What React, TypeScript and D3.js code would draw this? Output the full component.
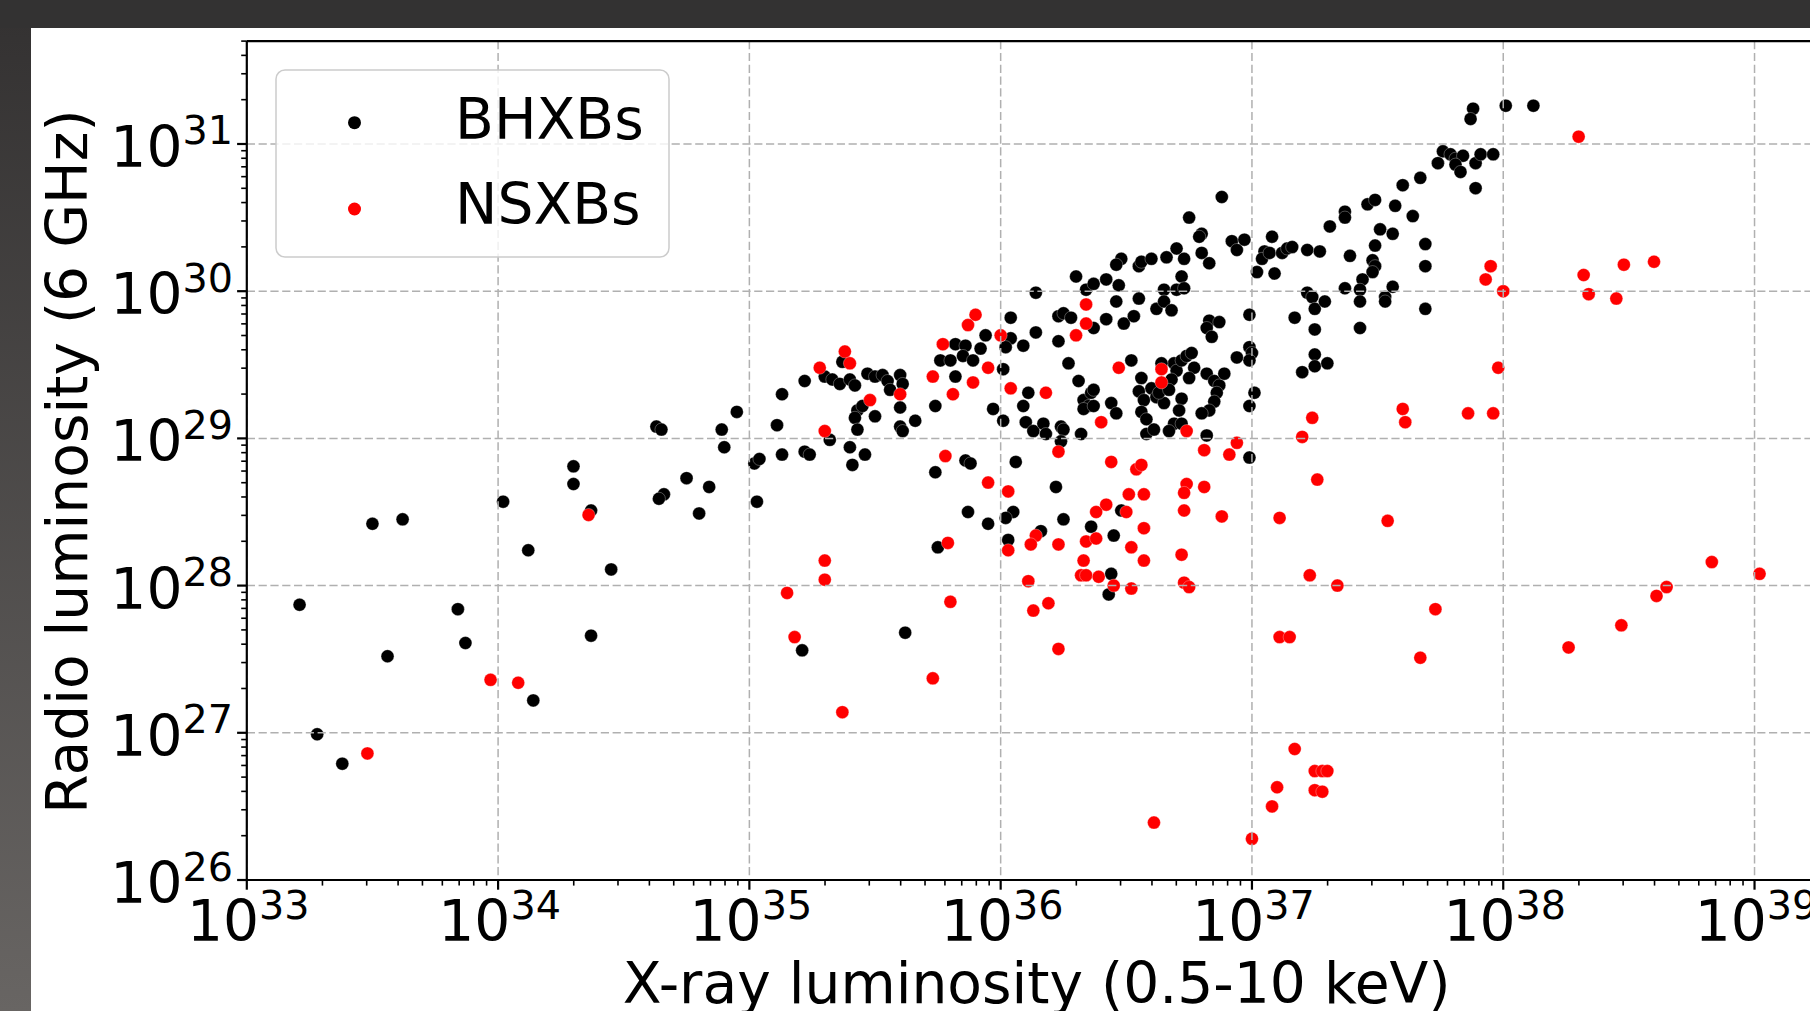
import React from 'react';
import * as d3 from 'd3';

const W = 1810;
const H = 1011;

// tick exponents
const xTickExps = [33, 34, 35, 36, 37, 38, 39];
const yTickExps = [26, 27, 28, 29, 30, 31];
const legendLabels = ['BHXBs', 'NSXBs'];
const seriesColors = ['#000000', '#ff0000'];
const xLabel = 'X-ray luminosity (0.5-10 keV)';
const yLabel = 'Radio luminosity (6 GHz)';

// [log10 Lx, log10 Lr]
const bhxbPoints: [number, number][] = [
  [33.21, 27.87], [33.50, 28.42], [33.62, 28.45], [33.56, 27.52], [33.84, 27.84], [33.87, 27.61],
  [34.02, 28.57], [34.12, 28.24], [34.30, 28.81], [34.30, 28.69], [34.37, 28.51], [34.45, 28.11],
  [34.37, 27.66], [34.14, 27.22], [34.63, 29.08], [34.65, 29.06], [34.66, 28.62], [34.64, 28.59],
  [34.75, 28.73], [34.80, 28.49], [34.84, 28.67], [34.89, 29.06], [34.90, 28.94], [34.95, 29.18],
  [35.03, 28.57], [35.02, 28.83], [35.04, 28.86], [35.11, 29.09], [35.13, 29.30], [35.13, 28.89],
  [35.22, 28.91], [35.24, 28.89], [35.22, 29.39], [35.21, 27.56], [33.28, 26.99], [33.38, 26.79],
  [35.94, 29.70], [35.82, 29.64], [35.86, 29.63], [35.92, 29.61], [35.85, 29.56], [35.89, 29.53],
  [35.76, 29.53], [35.80, 29.53], [35.82, 29.42], [35.30, 29.42], [35.33, 29.40], [35.36, 29.37],
  [35.37, 29.52], [35.40, 29.40], [35.42, 29.36], [35.47, 29.44], [35.50, 29.42], [35.53, 29.43],
  [35.55, 29.39], [35.56, 29.33], [35.60, 29.43], [35.61, 29.37], [35.43, 29.19], [35.42, 29.14],
  [35.43, 29.06], [35.45, 29.22], [35.50, 29.15], [35.60, 29.21], [35.60, 29.08], [35.61, 29.05],
  [35.66, 29.12], [35.32, 28.99], [35.40, 28.94], [35.41, 28.82], [35.46, 28.89], [35.74, 29.22],
  [35.97, 29.20], [35.86, 28.85], [35.88, 28.83], [35.74, 28.77], [35.87, 28.50], [35.95, 28.42],
  [35.75, 28.26], [35.62, 27.68], [36.14, 29.99], [36.34, 30.01], [36.46, 29.93], [36.55, 29.95],
  [36.04, 29.82], [36.23, 29.83], [36.25, 29.85], [36.28, 29.82], [36.42, 29.81], [36.37, 29.75],
  [36.49, 29.78], [36.53, 29.83], [36.62, 29.88], [36.30, 30.10], [36.37, 30.05], [36.42, 30.08],
  [36.47, 30.04], [36.48, 30.22], [36.46, 30.18], [36.55, 30.17], [36.56, 30.20], [36.60, 30.22],
  [37.88, 31.24], [37.87, 31.17], [38.01, 31.26], [38.12, 31.26], [37.76, 30.95], [37.79, 30.93],
  [37.81, 30.90], [37.84, 30.92], [37.81, 30.86], [37.83, 30.81], [37.74, 30.87], [37.89, 30.87],
  [37.91, 30.93], [37.96, 30.93], [37.89, 30.70], [37.67, 30.77], [37.60, 30.72], [37.46, 30.59],
  [37.49, 30.62], [37.57, 30.58], [37.37, 30.54], [37.37, 30.50], [37.31, 30.44], [37.64, 30.51],
  [37.51, 30.42], [37.56, 30.39], [37.49, 30.31], [37.39, 30.24], [37.48, 30.21], [37.49, 30.17],
  [37.48, 30.13], [37.69, 30.32], [37.69, 30.17], [37.44, 30.08], [37.37, 30.02], [37.43, 30.01],
  [37.43, 29.93], [37.56, 30.03], [37.53, 29.96], [37.53, 29.93], [37.43, 29.75], [37.69, 29.88],
  [36.88, 30.64], [36.75, 30.50], [36.80, 30.39], [36.79, 30.37], [36.80, 30.26], [36.83, 30.19],
  [36.70, 30.29], [36.66, 30.23], [36.73, 30.22], [36.92, 30.34], [36.94, 30.28], [36.97, 30.35],
  [37.08, 30.37], [37.05, 30.27], [37.04, 30.22], [37.07, 30.26], [37.02, 30.13], [37.09, 30.12],
  [37.12, 30.26], [37.14, 30.29], [37.16, 30.30], [37.22, 30.28], [37.27, 30.27], [36.72, 30.10],
  [36.65, 30.01], [36.70, 30.01], [36.73, 30.02], [36.65, 29.93], [36.68, 29.87], [36.99, 29.84],
  [37.22, 29.99], [37.24, 29.96], [37.25, 29.88], [37.29, 29.93], [37.17, 29.82], [37.25, 29.74],
  [36.83, 29.80], [36.87, 29.79], [36.82, 29.75], [36.04, 29.68], [36.02, 29.62], [36.09, 29.63],
  [36.01, 29.47], [36.14, 29.72], [36.23, 29.66], [36.27, 29.51], [36.31, 29.39], [36.52, 29.53],
  [36.84, 29.69], [36.99, 29.62], [37.00, 29.58], [36.99, 29.53], [36.94, 29.55], [37.25, 29.57],
  [37.25, 29.49], [37.30, 29.51], [37.20, 29.45], [37.01, 29.31], [36.99, 29.22], [36.11, 29.31],
  [36.09, 29.22], [36.01, 29.12], [36.10, 29.11], [36.13, 29.05], [36.17, 29.10], [36.18, 29.03],
  [36.24, 29.08], [36.25, 29.06], [36.24, 28.98], [36.32, 29.03], [36.06, 28.84], [36.22, 28.67],
  [36.05, 28.50], [36.02, 28.46], [36.03, 28.31], [36.25, 28.45], [36.36, 28.40], [36.48, 28.51],
  [36.45, 28.34], [36.16, 28.37], [36.44, 28.08], [36.43, 27.94], [36.33, 29.26], [36.36, 29.31],
  [36.37, 29.33], [36.35, 29.22], [36.33, 29.20], [36.37, 29.22], [36.44, 29.24], [36.46, 29.17],
  [36.56, 29.41], [36.55, 29.32], [36.57, 29.26], [36.56, 29.18], [36.58, 29.13], [36.58, 29.03],
  [36.61, 29.06], [36.60, 29.34], [36.62, 29.28], [36.65, 29.24], [36.63, 29.31], [36.69, 29.51],
  [36.70, 29.46], [36.72, 29.53], [36.74, 29.56], [36.76, 29.58], [36.68, 29.40], [36.67, 29.33],
  [36.72, 29.27], [36.71, 29.19], [36.69, 29.10], [36.67, 29.05], [36.72, 29.10], [36.77, 29.48],
  [36.75, 29.41], [36.82, 29.44], [36.85, 29.39], [36.87, 29.36], [36.89, 29.44], [36.86, 29.31],
  [36.85, 29.25], [36.83, 29.19], [36.80, 29.17], [36.82, 29.02], [36.99, 28.87], [36.64, 29.51],
];

const nsxbPoints: [number, number][] = [
  [34.36, 28.48], [33.97, 27.36], [34.08, 27.34], [33.48, 26.86], [35.15, 27.95], [35.18, 27.65],
  [35.37, 27.14], [35.30, 28.17], [35.30, 28.04], [35.90, 29.84], [35.87, 29.77], [35.77, 29.64],
  [35.73, 29.42], [35.81, 29.30], [35.89, 29.38], [35.95, 29.48], [35.38, 29.59], [35.40, 29.51],
  [35.28, 29.48], [35.48, 29.26], [35.60, 29.30], [35.30, 29.05], [35.78, 28.88], [35.95, 28.70],
  [35.79, 28.29], [35.80, 27.89], [35.73, 27.37], [36.34, 29.91], [36.34, 29.78], [36.30, 29.70],
  [36.00, 29.70], [36.47, 29.48], [36.64, 29.47], [36.64, 29.38], [36.04, 29.34], [36.18, 29.31],
  [36.40, 29.11], [36.74, 29.05], [36.23, 28.91], [36.81, 28.92], [36.94, 28.97], [36.91, 28.89],
  [36.44, 28.84], [36.54, 28.79], [36.56, 28.82], [36.03, 28.64], [36.51, 28.62], [36.57, 28.62],
  [36.74, 28.69], [36.73, 28.63], [36.81, 28.67], [36.42, 28.55], [36.38, 28.50], [36.50, 28.50],
  [36.73, 28.51], [36.88, 28.47], [37.11, 28.46], [36.57, 28.39], [36.14, 28.34], [36.12, 28.28],
  [36.23, 28.28], [36.03, 28.24], [36.34, 28.30], [36.38, 28.32], [36.52, 28.26], [36.72, 28.21],
  [36.57, 28.17], [36.33, 28.17], [36.32, 28.07], [36.34, 28.07], [36.39, 28.06], [36.45, 28.00],
  [36.52, 27.98], [36.73, 28.02], [36.75, 27.99], [36.11, 28.03], [37.23, 28.07], [37.34, 28.00],
  [37.54, 28.44], [37.26, 28.72], [37.20, 29.01], [37.24, 29.14], [37.60, 29.20], [37.61, 29.11],
  [37.86, 29.17], [37.96, 29.17], [37.98, 29.48], [36.19, 27.88], [36.13, 27.83], [37.73, 27.84],
  [36.23, 27.57], [37.17, 26.89], [37.25, 26.74], [37.28, 26.74], [37.30, 26.74], [37.25, 26.61],
  [37.28, 26.60], [37.10, 26.63], [37.08, 26.50], [37.00, 26.28], [36.61, 26.39], [37.11, 27.65],
  [37.15, 27.65], [38.30, 31.05], [37.95, 30.17], [37.93, 30.08], [38.00, 30.00], [38.32, 30.11],
  [38.34, 29.98], [38.45, 29.95], [38.48, 30.18], [38.60, 30.20], [38.83, 28.16], [39.02, 28.08],
  [38.65, 27.99], [38.61, 27.93], [38.47, 27.73], [38.26, 27.58], [37.67, 27.51],
];

const FONT = '"DejaVu Sans", sans-serif';
const FS = 56.7;
const SUP = 39.7;

export default function App() {
  const plotLeft = 246.8;
  const plotRight = 1826.4;
  const plotTop = 41.1;
  const plotBottom = 880;

  const x = d3.scaleLog().domain([1e33, Math.pow(10, 39.286)]).range([plotLeft, plotRight]);
  const y = d3.scaleLog().domain([1e26, 5e31]).range([plotBottom, plotTop]);
  const [xMin, xMax] = x.domain();
  const [yMin, yMax] = y.domain();

  const xMinor: number[] = [];
  for (let e = 32; e <= 39; e++) for (let k = 2; k <= 9; k++) {
    const v = k * Math.pow(10, e);
    if (v > xMin && v < xMax) xMinor.push(v);
  }
  const yMinor: number[] = [];
  for (let e = 25; e <= 31; e++) for (let k = 2; k <= 9; k++) {
    const v = k * Math.pow(10, e);
    if (v > yMin && v < yMax) yMinor.push(v);
  }

  const gridColor = '#b0b0b0';
  const dash = '8.2 3.6';
  const R = 6.5;

  return (
    <svg width={W} height={H} style={{ position: 'absolute', left: 0, top: 0, display: 'block' }}
      xmlns="http://www.w3.org/2000/svg">
      <defs>
        <linearGradient id="leftband" x1="0" y1="0" x2="0" y2="1">
          <stop offset="0" stopColor="#333131" />
          <stop offset="1" stopColor="#686563" />
        </linearGradient>
        <clipPath id="plotclip">
          <rect x={plotLeft} y={plotTop} width={plotRight - plotLeft} height={plotBottom - plotTop} />
        </clipPath>
      </defs>
      <rect x={0} y={0} width={W} height={H} fill="#333232" />
      <rect x={0} y={0} width={31} height={H} fill="url(#leftband)" />
      <rect x={0} y={0} width={W} height={28} fill="#333232" />
      <rect x={31} y={28} width={W - 31} height={H - 28} fill="#ffffff" />

      {/* points */}
      <g clipPath="url(#plotclip)">
        {bhxbPoints.map((p, i) => (
          <circle key={'b' + i} cx={x(Math.pow(10, p[0]))} cy={y(Math.pow(10, p[1]))} r={R}
            fill={seriesColors[0]} stroke="#ffffff" strokeWidth={0.5} strokeOpacity={0.6} />
        ))}
        {nsxbPoints.map((p, i) => (
          <circle key={'n' + i} cx={x(Math.pow(10, p[0]))} cy={y(Math.pow(10, p[1]))} r={R}
            fill={seriesColors[1]} stroke="#ffffff" strokeWidth={0.5} strokeOpacity={0.6} />
        ))}
      </g>

      {/* grid */}
      <g stroke={gridColor} strokeWidth={1.5} strokeDasharray={dash} fill="none">
        {xTickExps.map((e) => (
          <line key={'gx' + e} x1={x(Math.pow(10, e))} x2={x(Math.pow(10, e))} y1={plotTop} y2={plotBottom} />
        ))}
        {yTickExps.map((e) => (
          <line key={'gy' + e} x1={plotLeft} x2={plotRight} y1={y(Math.pow(10, e))} y2={y(Math.pow(10, e))} />
        ))}
      </g>

      {/* ticks */}
      <g stroke="#000" fill="none">
        {xTickExps.map((e) => (
          <line key={'tx' + e} x1={x(Math.pow(10, e))} x2={x(Math.pow(10, e))} y1={plotBottom} y2={plotBottom + 9.7} strokeWidth={2.2} />
        ))}
        {xMinor.map((v, i) => (
          <line key={'mx' + i} x1={x(v)} x2={x(v)} y1={plotBottom} y2={plotBottom + 5.6} strokeWidth={1.6} />
        ))}
        {yTickExps.map((e) => (
          <line key={'ty' + e} x1={plotLeft - 9.7} x2={plotLeft} y1={y(Math.pow(10, e))} y2={y(Math.pow(10, e))} strokeWidth={2.2} />
        ))}
        {yMinor.map((v, i) => (
          <line key={'my' + i} x1={plotLeft - 5.6} x2={plotLeft} y1={y(v)} y2={y(v)} strokeWidth={1.6} />
        ))}
      </g>

      {/* spines */}
      <g stroke="#000" strokeWidth={2.2} fill="none">
        <line x1={plotLeft} x2={plotLeft} y1={plotTop} y2={plotBottom} />
        <line x1={plotLeft} x2={plotRight} y1={plotBottom} y2={plotBottom} />
        <line x1={plotLeft} x2={plotRight} y1={plotTop} y2={plotTop} />
        <line x1={plotRight} x2={plotRight} y1={plotTop} y2={plotBottom} />
      </g>

      {/* tick labels */}
      <g fontFamily={FONT} fill="#000">
        {xTickExps.map((e) => (
          <text key={'lx' + e} x={x(Math.pow(10, e)) + 1.5} y={941} fontSize={FS} textAnchor="middle">
            10<tspan dy={-22.5} fontSize={SUP}>{e}</tspan>
          </text>
        ))}
        {yTickExps.map((e) => (
          <text key={'ly' + e} x={233} y={y(Math.pow(10, e)) + 23} fontSize={FS} textAnchor="end">
            10<tspan dy={-22.5} fontSize={SUP}>{e}</tspan>
          </text>
        ))}
      </g>

      {/* axis labels */}
      <text x={1036.6} y={1003} fontFamily={FONT} fontSize={FS} textAnchor="middle" fill="#000">{xLabel}</text>
      <text transform={`translate(87, ${(plotTop + plotBottom) / 2 + 1}) rotate(-90)`} fontFamily={FONT}
        fontSize={FS} textAnchor="middle" fill="#000">{yLabel}</text>

      {/* legend */}
      <g>
        <rect x={276} y={70} width={393} height={187} rx={9} ry={9} fill="#ffffff" fillOpacity={0.8}
          stroke="#cccccc" strokeWidth={1.5} />
        {legendLabels.map((lab, i) => (
          <g key={lab}>
            <circle cx={354.5} cy={122.7 + i * 86.3} r={R} fill={seriesColors[i]} />
            <text x={455} y={138.5 + i * 85} fontFamily={FONT} fontSize={FS} fill="#000">{lab}</text>
          </g>
        ))}
      </g>
    </svg>
  );
}
